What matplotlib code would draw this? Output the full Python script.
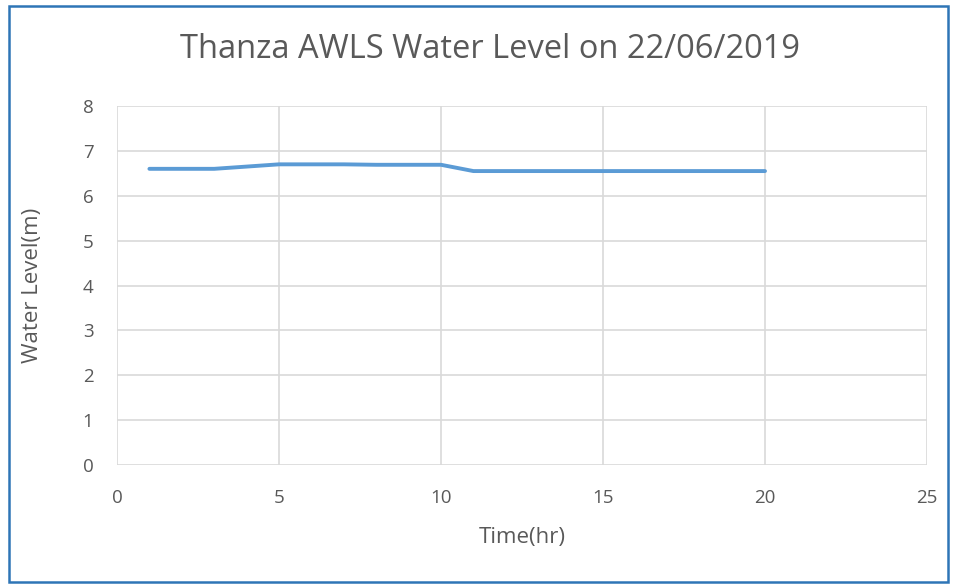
import matplotlib
matplotlib.use("Agg")
import matplotlib.pyplot as plt
from matplotlib.patches import Rectangle

hours = [1, 2, 3, 4, 5, 6, 7, 8, 9, 10, 11, 12, 13, 14, 15, 16, 17, 18, 19, 20]
levels = [6.60, 6.60, 6.60, 6.65, 6.70, 6.70, 6.70, 6.69, 6.69, 6.69,
          6.55, 6.55, 6.55, 6.55, 6.55, 6.55, 6.55, 6.55, 6.55, 6.55]
title = "Thanza AWLS Water Level on 22/06/2019"
xlabel = "Time(hr)"
ylabel = "Water Level(m)"

plt.rcParams['font.family'] = ['Open Sans', 'DejaVu Sans']
fig = plt.figure(figsize=(9.58, 5.84), dpi=100)
W, H = 958, 584
ax = fig.add_axes([117 / W, 1 - 465 / H, (927 - 117) / W, (465 - 106) / H])

ax.plot(hours, levels, color='#5B9BD5', lw=2.8, solid_capstyle='round')
ax.set_xlim(0, 25)
ax.set_ylim(0, 8)
ax.set_xticks(range(0, 26, 5))
ax.set_yticks(range(0, 9))
ax.grid(True, color='#D9D9D9', lw=1.2)
ax.set_axisbelow(True)
for s in ax.spines.values():
    s.set_visible(False)
ax.tick_params(axis='x', length=0, labelsize=13.5, colors='#595959', pad=17)
ax.tick_params(axis='y', length=0, labelsize=13.5, colors='#595959', pad=17)
ax.set_xlabel(xlabel, fontsize=16, color='#595959', va='center')
ax.xaxis.set_label_coords(0.5 * (522 - 117) / 405, (465 - 537) / 359)
ax.set_ylabel(ylabel, fontsize=16, color='#595959', va='center')
ax.yaxis.set_label_coords((33 - 117) / 810, 0.5)
fig.text(490 / W, 1 - 50 / H, title, ha='center', va='center', fontsize=23.5, color='#595959')

fig.patches.append(Rectangle((8.5 / W, 1 - 582 / H), (948 - 8.5) / W, (582 - 6) / H,
                             transform=fig.transFigure, fill=False, edgecolor='#2E75B6', lw=1.8))
fig.savefig('out.png', dpi=100)
